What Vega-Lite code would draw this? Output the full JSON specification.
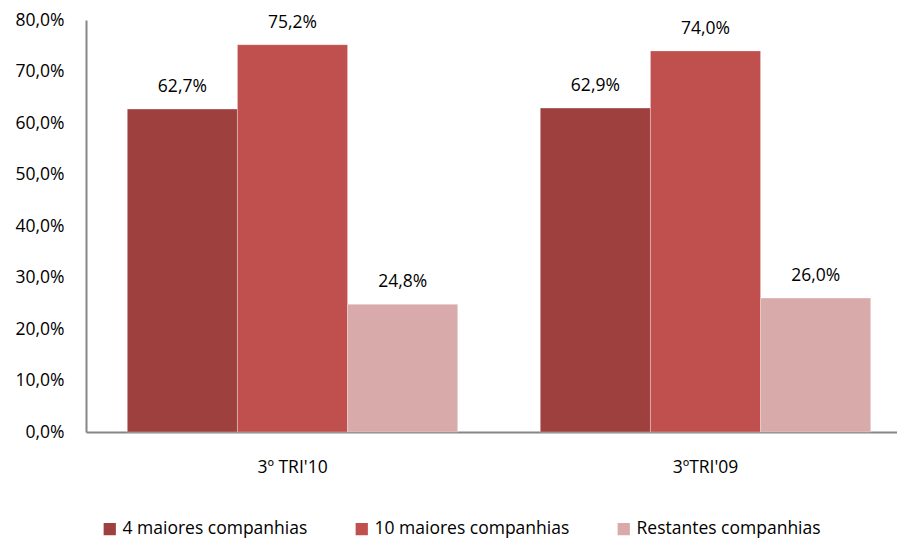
{
  "$schema": "https://vega.github.io/schema/vega-lite/v6.json",
  "width": 811,
  "height": 412,
  "autosize": {"type": "none"},
  "padding": {"left": 86, "top": 20, "right": 0, "bottom": 111},
  "data": {
    "values": [
      {"periodo": "3º TRI'10", "serie": "4 maiores companhias", "valor": 0.627},
      {"periodo": "3º TRI'10", "serie": "10 maiores companhias", "valor": 0.752},
      {"periodo": "3º TRI'10", "serie": "Restantes companhias", "valor": 0.248},
      {"periodo": "3ºTRI'09", "serie": "4 maiores companhias", "valor": 0.629},
      {"periodo": "3ºTRI'09", "serie": "10 maiores companhias", "valor": 0.74},
      {"periodo": "3ºTRI'09", "serie": "Restantes companhias", "valor": 0.26}
    ]
  },
  "encoding": {
    "x": {
      "field": "periodo", "type": "nominal", "sort": null,
      "scale": {"range": [0, 826], "paddingInner": 0.2, "paddingOuter": 0.1},
      "axis": {"title": null, "labelAngle": 0, "ticks": false, "labelPadding": 26, "domainColor": "#868686", "domainWidth": 2, "labelFontSize": 17.5, "labelColor": "#000000", "labelFont": "Open Sans"}
    },
    "xOffset": {
      "field": "serie", "type": "nominal",
      "sort": ["4 maiores companhias", "10 maiores companhias", "Restantes companhias"],
      "scale": {"paddingInner": 0, "paddingOuter": 0}
    },
    "y": {
      "field": "valor", "type": "quantitative",
      "scale": {"domain": [0, 0.8], "nice": false},
      "axis": {"title": null, "grid": false, "ticks": false, "tickCount": 8, "format": ".1%", "labelPadding": 22, "domainColor": "#868686", "domainWidth": 2, "labelFontSize": 17.5, "labelColor": "#000000", "labelFont": "Open Sans"}
    }
  },
  "layer": [
    {
      "mark": {"type": "bar", "stroke": "#ffffff", "strokeWidth": 0.5, "strokeOpacity": 0.6},
      "encoding": {
        "color": {
          "field": "serie", "type": "nominal",
          "sort": ["4 maiores companhias", "10 maiores companhias", "Restantes companhias"],
          "scale": {"range": ["#9E413E", "#C0504D", "#D9AAAA"]},
          "legend": {
            "title": null, "orient": "none", "direction": "horizontal",
            "legendX": 15, "legendY": 500,
            "symbolType": "square", "symbolSize": 150, "symbolStrokeWidth": 0,
            "labelFontSize": 17.5, "labelFont": "Open Sans", "labelColor": "#000000", "labelLimit": 400,
            "columnPadding": 45, "symbolOffset": 0, "labelOffset": 4
          }
        }
      }
    },
    {
      "mark": {"type": "text", "baseline": "bottom", "dy": -13, "fontSize": 17.5, "font": "Open Sans", "color": "#000000"},
      "encoding": {
        "text": {"field": "valor", "type": "quantitative", "format": ".1%"}
      }
    }
  ],
  "config": {
    "view": {"stroke": null},
    "locale": {"number": {"decimal": ",", "thousands": ".", "grouping": [3], "currency": ["R$", ""]}}
  }
}
